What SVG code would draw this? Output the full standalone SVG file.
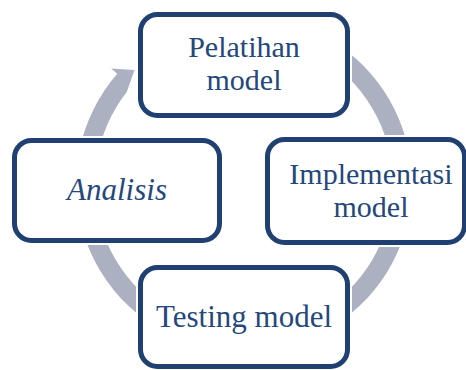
<svg xmlns="http://www.w3.org/2000/svg" width="466" height="370" viewBox="0 0 466 370">
  <style>
    .ring { fill: #abb1c1; stroke: none; }
    .halo { fill: #ffffff; stroke: #ffffff; stroke-width: 9; }
    .box { fill: #ffffff; stroke: #1f4070; stroke-width: 5; }
    .label { font-family: "Liberation Serif", "Times New Roman", serif; font-size: 31px; fill: #24487b; text-anchor: middle; }
    .two { font-size: 30px; }
    .italic { font-style: italic; }
  </style>
  <rect width="466" height="370" fill="#ffffff"/>

  <!-- cycle ring with arrowhead (centre 244,184; outer r 168, inner r 149) -->
  <g id="connectors">
    <path class="ring" d="M140.57,51.61 A168,168 0 1 1 117.21,73.78 L111.2,68.5 L134.5,70 L126.75,92.06 A149,149 0 1 0 152.27,66.59 Z"/>
  </g>

  <g id="node-pelatihan">
    <rect class="halo" x="140.5" y="14.5" width="207" height="101" rx="17"/>
    <rect class="box" x="140.5" y="14.5" width="207" height="101" rx="17"/>
    <text class="label two"><tspan x="244" y="56.5">Pelatihan</tspan><tspan x="244" y="90">model</tspan></text>
  </g>

  <g id="node-analisis">
    <rect class="halo" x="14.5" y="140.5" width="205" height="100" rx="17"/>
    <rect class="box" x="14.5" y="140.5" width="205" height="100" rx="17"/>
    <text class="label italic" x="117" y="200">Analisis</text>
  </g>

  <g id="node-implementasi">
    <rect class="halo" x="267.5" y="139.5" width="197" height="103" rx="17"/>
    <rect class="box" x="267.5" y="139.5" width="197" height="103" rx="17"/>
    <text class="label two"><tspan x="371" y="183.5">Implementasi</tspan><tspan x="371" y="217">model</tspan></text>
  </g>

  <g id="node-testing">
    <rect class="halo" x="140.5" y="267.5" width="207" height="99" rx="17"/>
    <rect class="box" x="140.5" y="267.5" width="207" height="99" rx="17"/>
    <text class="label" x="244" y="327">Testing model</text>
  </g>
</svg>
